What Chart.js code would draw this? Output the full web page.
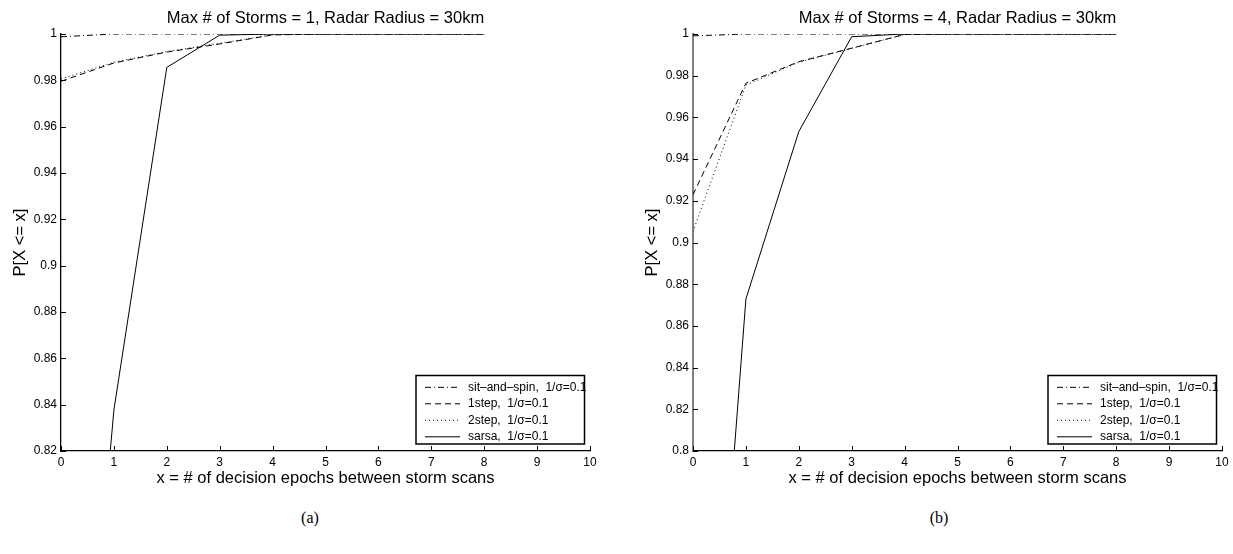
<!DOCTYPE html>
<html><head><meta charset="utf-8">
<script src="https://cdn.jsdelivr.net/npm/chart.js@4/dist/chart.umd.min.js"></script>
<style>
html,body{margin:0;padding:0;background:#fff;overflow:hidden;width:1233px;height:554px;}
canvas{position:absolute;top:0;}
#ca{left:0;}
#cb{left:632px;}
.cap{position:absolute;top:509px;font-family:"Liberation Serif","DejaVu Serif",serif;font-size:16px;color:#000;transform:translateX(-50%);white-space:nowrap;}
</style></head><body>
<canvas id="ca" width="616" height="500"></canvas>
<canvas id="cb" width="601" height="500"></canvas>
<div class="cap" style="left:310px">(a)</div>
<div class="cap" style="left:939px">(b)</div>
<script>
// ---- data ----
const xValues = [0, 1, 2, 3, 4, 5, 6, 7, 8];
const xTickValues = [0, 1, 2, 3, 4, 5, 6, 7, 8, 9, 10];
const yTickValuesA = [0.82, 0.84, 0.86, 0.88, 0.9, 0.92, 0.94, 0.96, 0.98, 1];
const yTickValuesB = [0.8, 0.82, 0.84, 0.86, 0.88, 0.9, 0.92, 0.94, 0.96, 0.98, 1];
const seriesNames = ['sit\u2013and\u2013spin,  1/\u03c3=0.1', '1step,  1/\u03c3=0.1', '2step,  1/\u03c3=0.1', 'sarsa,  1/\u03c3=0.1'];
const titleA = 'Max # of Storms = 1, Radar Radius = 30km';
const titleB = 'Max # of Storms = 4, Radar Radius = 30km';
const xAxisTitle = 'x = # of decision epochs between storm scans';
const yAxisTitle = 'P[X <= x]';

// panel (a)
const sitSpinA = [0.9988, 1, 1, 1, 1, 1, 1, 1, 1];
const oneStepA = [0.9796, 0.9875, 0.9922, 0.9957, 0.9996, 1, 1, 1, 1];
const twoStepA = [0.9806, 0.9878, 0.9924, 0.9960, 0.9997, 1, 1, 1, 1];
const sarsaA   = [0.581, 0.8377, 0.9856, 0.9995, 1, 1, 1, 1, 1];
// panel (b)
const sitSpinB = [0.9991, 1, 1, 1, 1, 1, 1, 1, 1];
const oneStepB = [0.9229, 0.9764, 0.9867, 0.9932, 0.9998, 1, 1, 1, 1];
const twoStepB = [0.9053, 0.9755, 0.9865, 0.9931, 0.9998, 1, 1, 1, 1];
const sarsaB   = [0.541, 0.8729, 0.9532, 0.9987, 1, 1, 1, 1, 1];

// ---- styling ----
const FONT = '"Liberation Sans", Arial, Helvetica, sans-serif';
const dashes = [[6, 3, 1, 3], [6, 4], [1, 3], []];
Chart.defaults.font.family = FONT;
Chart.defaults.color = '#000';

const inwardTicks = {
  id: 'inwardTicks',
  afterDatasetsDraw(chart) {
    const {ctx, chartArea: a} = chart;
    const xs = chart.scales.x, ys = chart.scales.y;
    ctx.save();
    ctx.strokeStyle = '#000';
    ctx.lineWidth = 1;
    ctx.beginPath();
    xs.ticks.forEach(t => {
      const p = Math.round(xs.getPixelForValue(t.value)) + 0.5;
      ctx.moveTo(p, a.bottom); ctx.lineTo(p, a.bottom - 5);
    });
    ys.ticks.forEach(t => {
      const p = Math.round(ys.getPixelForValue(t.value)) + 0.5;
      ctx.moveTo(a.left, p); ctx.lineTo(a.left + 5, p);
    });
    ctx.stroke();
    ctx.restore();
  }
};

const boxLegend = {
  id: 'boxLegend',
  afterDraw(chart) {
    const {ctx, chartArea: a} = chart;
    const w = 168.5, h = 68.5;
    const r = a.right - 5.5, b = a.bottom - 7;
    const l = r - w, t = b - h;
    ctx.save();
    ctx.fillStyle = '#fff';
    ctx.fillRect(l, t, w, h);
    ctx.font = '12px ' + FONT;
    ctx.textBaseline = 'middle';
    ctx.textAlign = 'left';
    chart.data.datasets.forEach((ds, i) => {
      const y = t + 11.8 + i * 16.5;
      ctx.strokeStyle = '#000';
      ctx.lineWidth = 1;
      ctx.setLineDash(ds.borderDash || []);
      ctx.beginPath();
      ctx.moveTo(l + 9, y); ctx.lineTo(l + 44, y);
      ctx.stroke();
      ctx.setLineDash([]);
      ctx.fillStyle = '#000';
      ctx.fillText(ds.label, l + 52, y);
    });
    ctx.strokeStyle = '#000';
    ctx.lineWidth = 1.5;
    ctx.strokeRect(l, t, w, h);
    ctx.restore();
  }
};

function fmt(v) { return String(Number(Number(v).toFixed(2))); }

function makeChart(id, series, yTicks, title, padRight, yBorderColor, yBorderWidth) {
  const datasets = series.map((s, i) => ({
    label: seriesNames[i],
    data: xValues.map((x, j) => ({x: x, y: s[j]})),
    borderColor: '#000',
    borderWidth: 1,
    borderDash: dashes[i],
    pointRadius: 0,
    fill: false,
    tension: 0
  }));
  return new Chart(document.getElementById(id), {
    type: 'line',
    data: {datasets},
    plugins: [inwardTicks, boxLegend],
    options: {
      responsive: false,
      animation: false,
      devicePixelRatio: 1,
      events: [],
      layout: {padding: {left: 0, right: padRight, top: 0, bottom: 0}},
      plugins: {legend: {display: false}, tooltip: {enabled: false}, title: {display: false}},
      scales: {
        x: {
          type: 'linear', position: 'bottom',
          min: xTickValues[0], max: xTickValues[xTickValues.length - 1],
          afterBuildTicks: s => { s.ticks = xTickValues.map(v => ({value: v})); },
          ticks: {font: {size: 12}, color: '#000', padding: 4, maxRotation: 0, autoSkip: false, callback: v => fmt(v)},
          grid: {display: false, drawTicks: false},
          border: {display: true, color: '#000', width: 1.3},
          title: {display: true, text: xAxisTitle, color: '#000', font: {size: 16.5}, padding: {top: 0, bottom: 12}},
          afterFit: s => { s.height = 49; }
        },
        x2: {
          type: 'linear', position: 'top', axis: 'x',
          min: 0, max: 10,
          ticks: {display: false},
          grid: {display: false, drawTicks: false},
          border: {display: false},
          title: {display: true, text: title, color: '#000', font: {size: 16.5}, padding: {top: 8.6, bottom: 0}},
          afterFit: s => { s.height = 34; }
        },
        y: {
          type: 'linear', position: 'left',
          min: yTicks[0], max: yTicks[yTicks.length - 1],
          afterBuildTicks: s => { s.ticks = yTicks.map(v => ({value: v})); },
          ticks: {font: {size: 12}, color: '#000', padding: 4, autoSkip: false, callback: v => fmt(v)},
          grid: {display: false, drawTicks: false},
          border: {display: true, color: yBorderColor, width: yBorderWidth},
          title: {display: true, text: yAxisTitle, color: '#000', font: {size: 16.5}, padding: {top: 10.5, bottom: 0}},
          afterFit: s => { s.width = 61; }
        }
      }
    }
  });
}

makeChart('ca', [sitSpinA, oneStepA, twoStepA, sarsaA], yTickValuesA, titleA, 26, '#000', 1.3);
makeChart('cb', [sitSpinB, oneStepB, twoStepB, sarsaB], yTickValuesB, titleB, 11, '#808080', 2);
</script>
</body></html>
